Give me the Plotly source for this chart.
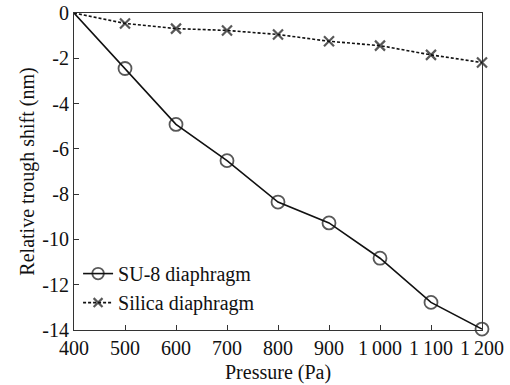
import plotly.graph_objects as go

pressure = [400, 500, 600, 700, 800, 900, 1000, 1100, 1200]
su8_shift = [0, -2.45, -4.92, -6.52, -8.35, -9.27, -10.83, -12.78, -13.96]
silica_shift = [0, -0.46, -0.69, -0.77, -0.95, -1.25, -1.44, -1.85, -2.19]
x_tick_vals = [400, 500, 600, 700, 800, 900, 1000, 1100, 1200]
x_tick_text = ["400", "500", "600", "700", "800", "900", "1\u2009000", "1\u2009100", "1\u2009200"]
y_tick_vals = [0, -2, -4, -6, -8, -10, -12, -14]
y_tick_text = ["0", "-2", "-4", "-6", "-8", "-10", "-12", "-14"]
x_title = "Pressure (Pa)"
y_title = "Relative trough shift (nm)"

FONT = "Liberation Serif, DejaVu Serif, serif"
FS = 20

# no marker drawn at the origin point (400 Pa)
su8_sizes = [0] + [13] * (len(pressure) - 1)
silica_sizes = [0] + [10] * (len(pressure) - 1)

fig = go.Figure()
fig.add_trace(go.Scatter(
    x=pressure, y=su8_shift, name="SU-8 diaphragm", mode="lines+markers",
    line=dict(color="#111111", width=1.6),
    marker=dict(symbol="circle-open", size=su8_sizes, color="#111111", line=dict(width=1.8)),
    cliponaxis=False,
))
fig.add_trace(go.Scatter(
    x=pressure, y=silica_shift, name="Silica diaphragm", mode="lines+markers",
    line=dict(color="#111111", width=1.6, dash="3px,2px"),
    marker=dict(symbol="x-thin-open", size=silica_sizes, color="#111111", line=dict(width=2.2, color="#111111")),
    cliponaxis=False,
))

fig.add_annotation(
    text=x_title, xref="paper", yref="paper", x=0.5, y=0,
    xanchor="center", yanchor="top", yshift=-29, showarrow=False,
    font=dict(family=FONT, size=FS, color="#111111"),
)

fig.update_layout(
    width=510, height=385,
    margin=dict(l=74, r=28, t=13, b=55),
    paper_bgcolor="white", plot_bgcolor="white",
    font=dict(family=FONT, size=FS, color="#111111"),
    showlegend=True,
    legend=dict(x=0.01, y=0.025, xanchor="left", yanchor="bottom",
                bgcolor="rgba(0,0,0,0)", font=dict(family=FONT, size=FS), tracegroupgap=0,
                itemwidth=30, itemsizing="trace"),
    xaxis=dict(
        range=[400, 1200], tickvals=x_tick_vals, ticktext=x_tick_text,
        ticks="inside", ticklen=5, tickcolor="#333333",
        showline=True, linecolor="#333333", linewidth=1.2, mirror=True,
        showgrid=False, zeroline=False, automargin=False,
        tickfont=dict(family=FONT, size=FS),
    ),
    yaxis=dict(
        range=[-14, 0], tickvals=y_tick_vals, ticktext=y_tick_text,
        ticks="inside", ticklen=5, tickcolor="#333333",
        showline=True, linecolor="#333333", linewidth=1.2, mirror=True,
        showgrid=False, zeroline=False, automargin=False,
        tickfont=dict(family=FONT, size=FS),
        title=dict(text=y_title, standoff=2, font=dict(family=FONT, size=FS)),
    ),
)

fig.write_html("out.html", config={"displayModeBar": False},
               post_script="document.body.style.margin='0';")
